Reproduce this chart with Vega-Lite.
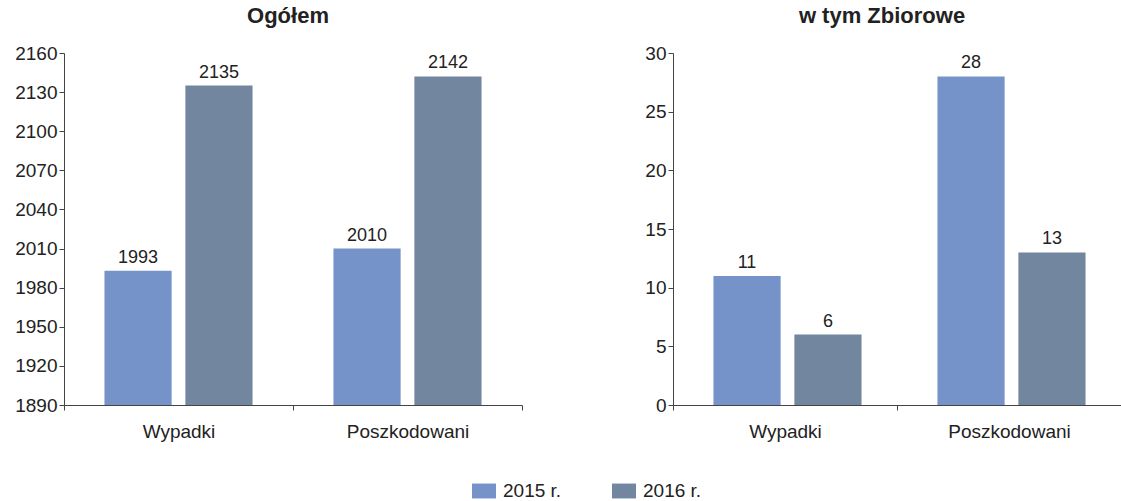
{
  "$schema": "https://vega.github.io/schema/vega-lite/v6.json",
  "padding": {"left": 14, "top": 5, "right": 0, "bottom": 0},
  "background": "white",
  "config": {
    "font": "Liberation Sans",
    "view": {"stroke": null},
    "concat": {"spacing": 121},
    "title": {"fontSize": 22, "fontWeight": "bold", "color": "#222222", "offset": 16},
    "axis": {
      "labelFontSize": 19, "labelColor": "#222222", "labelFont": "Liberation Sans",
      "domainColor": "#444444", "tickColor": "#444444", "grid": false, "title": null,
      "tickSize": 5
    }
  },
  "data": {"values": [
    {"panel": "Ogółem", "kategoria": "Wypadki", "rok": "2015 r.", "wartosc": 1993},
    {"panel": "Ogółem", "kategoria": "Wypadki", "rok": "2016 r.", "wartosc": 2135},
    {"panel": "Ogółem", "kategoria": "Poszkodowani", "rok": "2015 r.", "wartosc": 2010},
    {"panel": "Ogółem", "kategoria": "Poszkodowani", "rok": "2016 r.", "wartosc": 2142},
    {"panel": "w tym Zbiorowe", "kategoria": "Wypadki", "rok": "2015 r.", "wartosc": 11},
    {"panel": "w tym Zbiorowe", "kategoria": "Wypadki", "rok": "2016 r.", "wartosc": 6},
    {"panel": "w tym Zbiorowe", "kategoria": "Poszkodowani", "rok": "2015 r.", "wartosc": 28},
    {"panel": "w tym Zbiorowe", "kategoria": "Poszkodowani", "rok": "2016 r.", "wartosc": 13}
  ]},
  "hconcat": [
    {
      "width": 458, "height": 352,
      "title": {"text": "Ogółem", "dx": -5},
      "transform": [{"filter": "datum.panel === 'Ogółem'"}],
      "encoding": {
        "x": {"field": "kategoria", "type": "nominal", "sort": ["Wypadki", "Poszkodowani"],
              "scale": {"paddingInner": 0, "paddingOuter": 0},
              "axis": {"labelAngle": 0, "tickBand": "extent", "labelPadding": 12}},
        "xOffset": {"field": "rok", "type": "nominal", "scale": {"paddingInner": 0.17, "paddingOuter": 0.5}},
        "y": {"field": "wartosc", "type": "quantitative",
              "scale": {"domain": [1890, 2160], "nice": false, "zero": false},
              "axis": {"values": [1890, 1920, 1950, 1980, 2010, 2040, 2070, 2100, 2130, 2160], "labelPadding": 2, "format": "d"}},
        "color": {"field": "rok", "type": "nominal",
                  "scale": {"domain": ["2015 r.", "2016 r."], "range": ["#7592c9", "#73869f"]},
                  "legend": {"orient": "none", "legendX": 408, "legendY": 426, "direction": "horizontal",
                             "title": null, "labelFontSize": 19, "labelColor": "#222222",
                             "symbolType": "M-1,-0.62L1,-0.62L1,0.62L-1,0.62Z", "symbolSize": 576,
                             "symbolStrokeWidth": 0, "symbolOpacity": 1, "labelOffset": 7, "columnPadding": 50, "padding": 0}}
      },
      "layer": [
        {"mark": {"type": "bar", "clip": true, "opacity": 1}},
        {"mark": {"type": "text", "baseline": "bottom", "dy": -4, "fontSize": 18, "color": "#222222"},
         "encoding": {"text": {"field": "wartosc", "type": "quantitative", "format": "d"}, "color": {"value": "#222222"}}}
      ]
    },
    {
      "width": 448, "height": 352,
      "title": {"text": "w tym Zbiorowe", "dx": -15},
      "transform": [{"filter": "datum.panel === 'w tym Zbiorowe'"}],
      "encoding": {
        "x": {"field": "kategoria", "type": "nominal", "sort": ["Wypadki", "Poszkodowani"],
              "scale": {"paddingInner": 0, "paddingOuter": 0},
              "axis": {"labelAngle": 0, "tickBand": "extent", "labelPadding": 12}},
        "xOffset": {"field": "rok", "type": "nominal", "scale": {"paddingInner": 0.17, "paddingOuter": 0.5}},
        "y": {"field": "wartosc", "type": "quantitative",
              "scale": {"domain": [0, 30], "nice": false},
              "axis": {"values": [0, 5, 10, 15, 20, 25, 30], "labelPadding": 2, "format": "d"}},
        "color": {"field": "rok", "type": "nominal",
                  "scale": {"domain": ["2015 r.", "2016 r."], "range": ["#7592c9", "#73869f"]}}
      },
      "layer": [
        {"mark": {"type": "bar", "opacity": 1}},
        {"mark": {"type": "text", "baseline": "bottom", "dy": -4, "fontSize": 18, "color": "#222222"},
         "encoding": {"text": {"field": "wartosc", "type": "quantitative", "format": "d"}, "color": {"value": "#222222"}}}
      ]
    }
  ]
}
